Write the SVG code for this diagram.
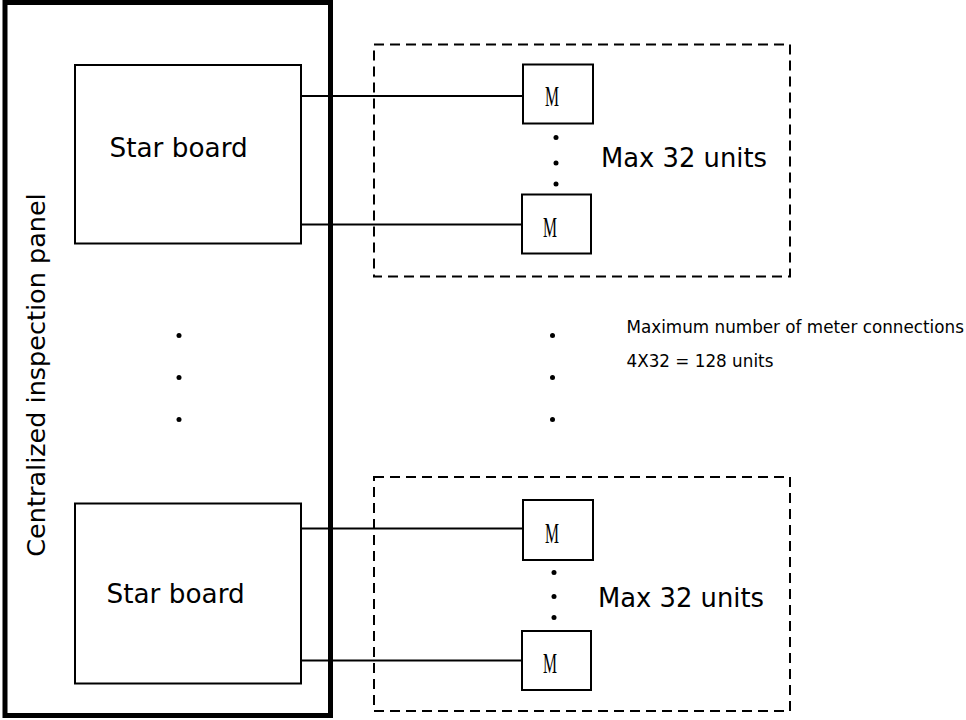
<svg xmlns="http://www.w3.org/2000/svg" width="966" height="720" viewBox="0 0 966 720">
  <style>
    .box { fill: #fff; stroke: #000; stroke-width: 2; }
    .group { fill: none; stroke: #000; stroke-width: 2; stroke-dasharray: 10 6; }
    .wire { stroke: #000; stroke-width: 2; fill: none; }
    .label { font-family: "DejaVu Sans", Verdana, sans-serif; fill: #000; }
    .meter { font-family: "Liberation Serif", "Times New Roman", serif; font-size: 29px; fill: #000; text-anchor: middle; }
    .dot { fill: #000; }
  </style>

  <!-- Centralized inspection panel -->
  <g id="panel">
    <rect x="5" y="2.5" width="325.5" height="713" fill="#fff" stroke="#000" stroke-width="5"/>
    <text class="label" font-size="25.5" text-anchor="middle" transform="translate(45,375) rotate(-90)">Centralized inspection panel</text>
  </g>

  <!-- Meter groups (dashed) -->
  <g id="group-1">
    <rect class="group" x="374" y="44.5" width="416" height="232"/>
    <text class="label" font-size="25.8" x="601" y="167">Max 32 units</text>
  </g>
  <g id="group-2">
    <rect class="group" x="374" y="477" width="416" height="234"/>
    <text class="label" font-size="25.8" x="598" y="607">Max 32 units</text>
  </g>

  <!-- Connectors -->
  <g id="connectors">
    <line class="wire" x1="300" y1="96" x2="523" y2="96"/>
    <line class="wire" x1="300" y1="224.5" x2="522" y2="224.5"/>
    <line class="wire" x1="300" y1="528.5" x2="523" y2="528.5"/>
    <line class="wire" x1="300" y1="660.5" x2="522" y2="660.5"/>
  </g>

  <!-- Star boards -->
  <g id="star-board-1">
    <rect class="box" x="75" y="65" width="226" height="178.5"/>
    <text class="label" font-size="26.3" x="109.5" y="157">Star board</text>
  </g>
  <g id="star-board-2">
    <rect class="box" x="75" y="503.5" width="226" height="180"/>
    <text class="label" font-size="26.3" x="106.5" y="602.5">Star board</text>
  </g>

  <!-- Meters -->
  <g id="meter-1">
    <rect class="box" x="523" y="64.5" width="70" height="59"/>
    <text class="meter" x="552" y="106" textLength="14" lengthAdjust="spacingAndGlyphs">M</text>
  </g>
  <g id="meter-2">
    <rect class="box" x="522" y="194.5" width="69" height="59"/>
    <text class="meter" x="550" y="236.5" textLength="14" lengthAdjust="spacingAndGlyphs">M</text>
  </g>
  <g id="meter-3">
    <rect class="box" x="523" y="500" width="70" height="60"/>
    <text class="meter" x="552" y="542.5" textLength="14" lengthAdjust="spacingAndGlyphs">M</text>
  </g>
  <g id="meter-4">
    <rect class="box" x="522" y="631" width="69" height="59"/>
    <text class="meter" x="550" y="672.5" textLength="14" lengthAdjust="spacingAndGlyphs">M</text>
  </g>

  <!-- Ellipsis dots -->
  <g id="ellipses">
    <circle class="dot" cx="556" cy="137.5" r="2.5"/>
    <circle class="dot" cx="556" cy="163" r="2.5"/>
    <circle class="dot" cx="556" cy="184" r="2.5"/>
    <circle class="dot" cx="554" cy="572.5" r="2.5"/>
    <circle class="dot" cx="554" cy="596.5" r="2.5"/>
    <circle class="dot" cx="554" cy="617.5" r="2.5"/>
    <circle class="dot" cx="179" cy="335.5" r="2.5"/>
    <circle class="dot" cx="179" cy="377.5" r="2.5"/>
    <circle class="dot" cx="179" cy="419.5" r="2.5"/>
    <circle class="dot" cx="552.5" cy="335.5" r="2.5"/>
    <circle class="dot" cx="552.5" cy="377.5" r="2.5"/>
    <circle class="dot" cx="552.5" cy="419.5" r="2.5"/>
  </g>

  <!-- Summary note -->
  <g id="note">
    <text class="label" font-size="16.8" x="626.5" y="333">Maximum number of meter connections</text>
    <text class="label" font-size="16.8" x="626.5" y="366.5">4X32 = 128 units</text>
  </g>
</svg>
